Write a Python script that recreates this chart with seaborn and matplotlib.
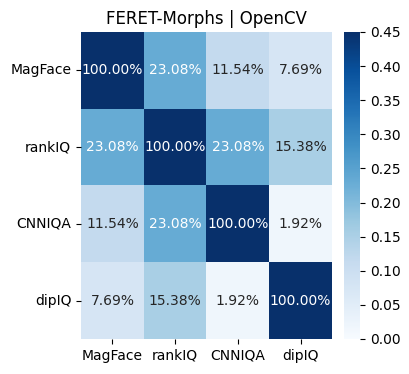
import numpy as np
import pandas as pd
import matplotlib
matplotlib.use("Agg")
import matplotlib.pyplot as plt
import seaborn as sns

methods = ["MagFace", "rankIQ", "CNNIQA", "dipIQ"]
overlap = [
    [1.0, 0.2308, 0.1154, 0.0769],
    [0.2308, 1.0, 0.2308, 0.1538],
    [0.1154, 0.2308, 1.0, 0.0192],
    [0.0769, 0.1538, 0.0192, 1.0],
]

df = pd.DataFrame(overlap, index=methods, columns=methods)

fig = plt.figure(figsize=(4.1, 3.74), dpi=100)
ax = fig.add_axes([0.1976, 0.0936, 0.612, 0.821])
cax = fig.add_axes([0.839, 0.0936, 0.039, 0.821])
sns.heatmap(df, annot=True, fmt=".2%", cmap="Blues", vmin=0, vmax=0.45,
            ax=ax, cbar_ax=cax)
cax.set_yticks(np.arange(0, 0.46, 0.05))
ax.set_title("FERET-Morphs | OpenCV")
ax.tick_params(axis="y", rotation=0)
fig.savefig("out.png", dpi=100)
